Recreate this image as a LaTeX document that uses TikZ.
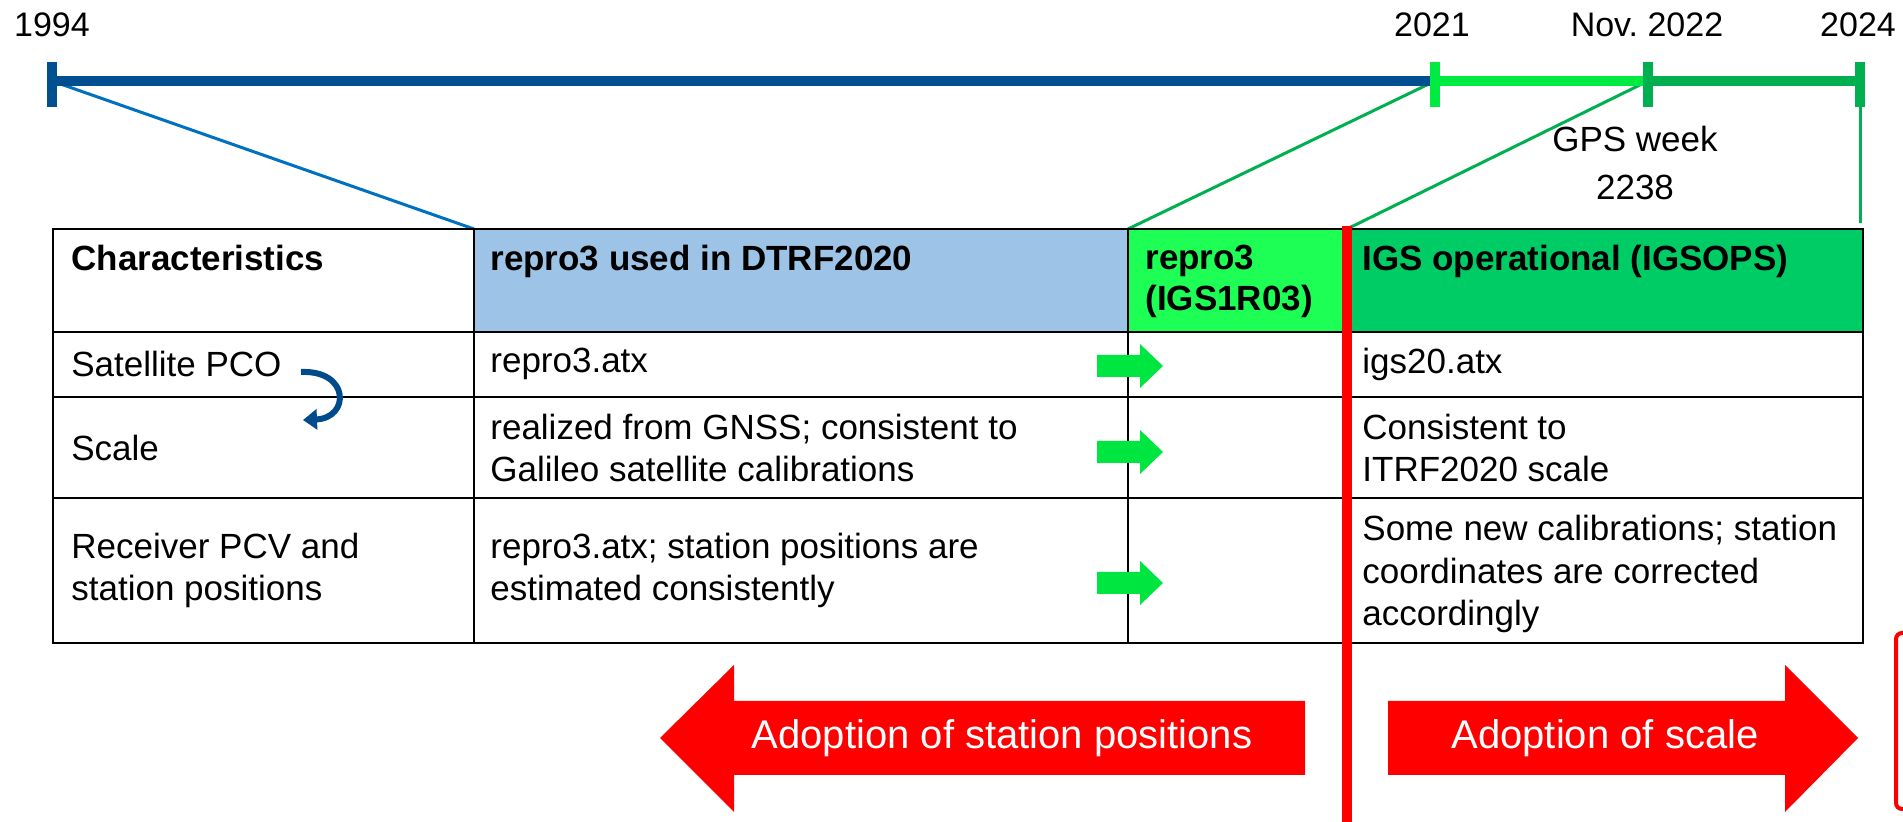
\documentclass[tikz,border=0pt]{standalone}
\usepackage{fontspec}
\setmainfont{Liberation Sans}
\usepackage{xcolor}
\usetikzlibrary{arrows.meta}
\frenchspacing
\definecolor{tlblue}{RGB}{0,80,145}
\definecolor{tlbright}{RGB}{0,235,65}
\definecolor{tldark}{RGB}{0,176,80}
\definecolor{linkblue}{RGB}{0,112,192}
\definecolor{linkgreen}{RGB}{0,176,80}
\definecolor{hblue}{RGB}{157,195,230}
\definecolor{hgreen}{RGB}{30,255,85}
\definecolor{hdark}{RGB}{0,204,102}
\definecolor{arrgreen}{RGB}{0,230,64}
\definecolor{adred}{RGB}{255,0,0}
\definecolor{curveblue}{RGB}{0,75,140}

\begin{document}
\begin{tikzpicture}[
  x=0.5pt, y=-0.5pt,
  year/.style={inner sep=0, font=\fontsize{17}{20}\selectfont},
  hdr/.style={anchor=north west, inner sep=0, align=left, font=\fontsize{17.5}{20.5}\selectfont\bfseries},
  cell/.style={anchor=west, inner sep=0, align=left, font=\fontsize{17.5}{21}\selectfont},
  tline/.style={line width=5pt},
  tickmark/.style={line width=5pt},
  link/.style={line width=1.5pt},
  tblline/.style={line width=1.2pt, black},
  redline/.style={line width=5pt, adred},
  bigtxt/.style={inner sep=0, text=white, font=\fontsize{20}{24}\selectfont},
  pcoarr/.style={draw=curveblue, line width=3pt, -{Triangle[length=7pt,width=10pt]}},
]
  \useasboundingbox (0,0) rectangle (1903,822);

  \coordinate (t94) at (52,81);
  \coordinate (t21) at (1435,81);
  \coordinate (t22) at (1648,81);
  \coordinate (t24) at (1860,81);
  \coordinate (hdtrf) at (474,229);
  \coordinate (hrep) at (1128,229);
  \coordinate (cut) at (1347,229);
  \coordinate (end24) at (1860,223);

  \draw[link, linkblue] (t94) -- (hdtrf);
  \draw[link, linkgreen] (t21) -- (hrep);
  \draw[link, linkgreen] (t22) -- (cut);
  \draw[link, linkgreen] (t24) -- (end24);

  \draw[tline, tlblue] (t94) -- (t21);
  \draw[tline, tlbright] (t21) -- (t22);
  \draw[tline, tldark] (t22) -- (t24);
  \foreach \tk/\col in {t94/tlblue, t21/tlbright, t22/tldark, t24/tldark}
    \draw[tickmark, \col] (\tk) ++(0,-19) -- ++(0,45);

  \node[year] (y94) at (52,25) {1994};
  \node[year] (y21) at (1432,25) {2021};
  \node[year] (y22) at (1647,25) {Nov. 2022};
  \node[year] (y24) at (1858,25) {2024};
  \node[year, align=center, font=\fontsize{17.5}{24}\selectfont] (gps) at (1635,163) {GPS week\\2238};

  \fill[hblue] (474,229) rectangle (1128,332);
  \fill[hgreen] (1128,229) rectangle (1347,332);
  \fill[hdark] (1347,229) rectangle (1863,332);
  \draw[tblline] (53,229) rectangle (1863,643);
  \foreach \ry in {332,397,498}
    \draw[tblline] (53,\ry) -- (1863,\ry);
  \foreach \cx in {474,1128,1347}
    \draw[tblline] (\cx,229) -- (\cx,643);

  \node[hdr] (hchar) at (71,245) {Characteristics};
  \node[hdr] (hcol2) at (490,245) {repro3 used in DTRF2020};
  \node[hdr] (hcol3) at (1145,245) {repro3\\(IGS1R03)};
  \node[hdr] (hcol4) at (1362,245) {IGS operational (IGSOPS)};

  \node[cell] (pco) at (71,364) {Satellite PCO};
  \node[cell] (scl) at (71,448) {Scale};
  \node[cell] (rcv) at (71,570) {Receiver PCV and\\station positions};
  \node[cell] (pco2) at (490,364) {repro3.atx};
  \node[cell] (scl2) at (490,448) {realized from GNSS; consistent to\\Galileo satellite calibrations};
  \node[cell] (rcv2) at (490,570) {repro3.atx; station positions are\\estimated consistently};
  \node[cell] (pco4) at (1362,364) {igs20.atx};
  \node[cell] (scl4) at (1362,448) {Consistent to\\ITRF2020 scale};
  \node[cell, font=\fontsize{17.5}{21.25}\selectfont] (rcv4) at (1362,574) {Some new calibrations; station\\coordinates are corrected\\accordingly};

  \coordinate (bendA) at (301,372);
  \coordinate (bendB) at (303,420);
  \draw[pcoarr] (bendA) .. controls (350,370) and (350,418) .. (bendB);

  \foreach \ry in {366,452,583}
    \fill[arrgreen] (1097,\ry-11) -- (1140,\ry-11) -- (1140,\ry-22) -- (1163,\ry)
      -- (1140,\ry+22) -- (1140,\ry+11) -- (1097,\ry+11) -- cycle;

  \draw[redline] (1347,226) -- (1347,822);

  \fill[adred] (1305,701) -- (734,701) -- (734,665) -- (660,738) -- (734,812) -- (734,775) -- (1305,775) -- cycle;
  \node[bigtxt] (adpos) at (1002,738) {Adoption of station positions};
  \fill[adred] (1388,701) -- (1785,701) -- (1785,665) -- (1858,738) -- (1785,812) -- (1785,775) -- (1388,775) -- cycle;
  \node[bigtxt] (adscl) at (1605,738) {Adoption of scale};
  \draw[adred, line width=2pt, rounded corners=3pt] (1912,633) -- (1896,633) -- (1896,809) -- (1912,809);
\end{tikzpicture}
\end{document}
